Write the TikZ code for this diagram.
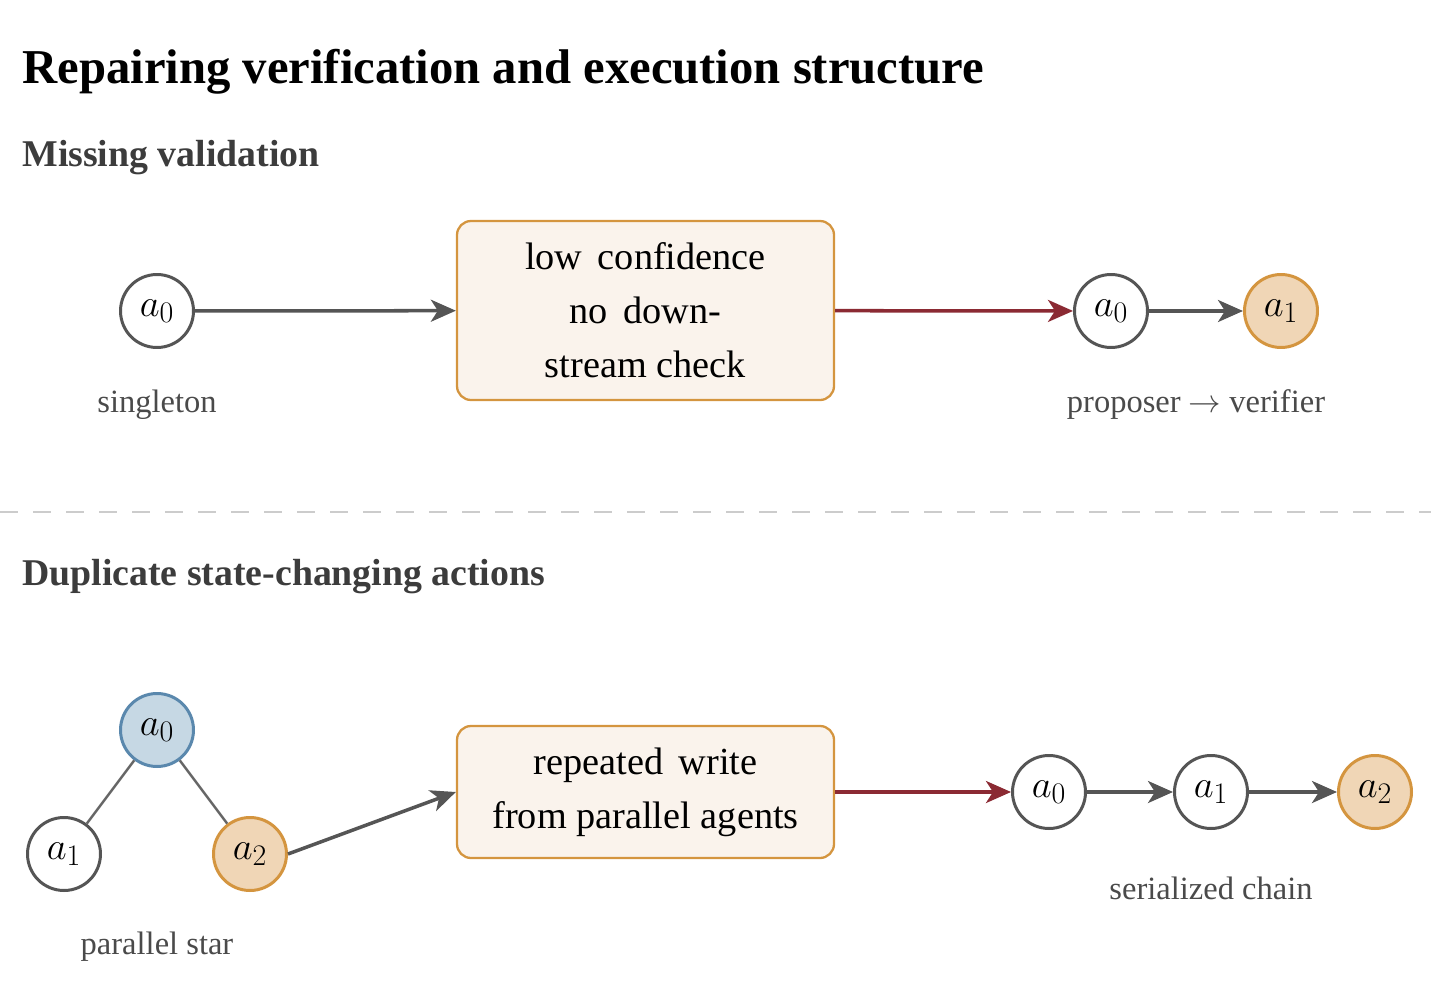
\RequirePackage{fix-cm}
\documentclass[tikz,border=0pt]{standalone}
\usepackage[no-math]{fontspec}
\setmainfont{Liberation Serif}
\usepackage{xcolor}
\usepackage{tikz}
\usetikzlibrary{arrows.meta}
\usepackage{amsmath}
\DeclareMathSizes{22}{22}{17}{12}

\definecolor{edgegray}{HTML}{555555}
\definecolor{labelgray}{HTML}{4A4A4A}
\definecolor{headgray}{HTML}{3C3C3C}
\definecolor{repairred}{HTML}{8B2A33}
\definecolor{warnline}{HTML}{D4953F}
\definecolor{warnfill}{HTML}{F0D6B6}
\definecolor{boxfill}{HTML}{FAF3EC}
\definecolor{rootline}{HTML}{5A88AD}
\definecolor{rootfill}{HTML}{C6D8E4}
\definecolor{rulegray}{HTML}{CCCCCC}

\begin{document}
\begin{tikzpicture}[
    agent/.style={circle,draw=edgegray,line width=1.7pt,fill=white,minimum size=1.46cm,inner sep=0pt,font=\fontsize{22}{26}\selectfont},
    touched/.style={agent,draw=warnline,fill=warnfill},
    root/.style={agent,draw=rootline,fill=rootfill},
    failbox/.style={draw=warnline,fill=boxfill,line width=1.3pt,rounded corners=0.28cm,minimum width=7.54cm,align=center,font=\fontsize{21.8}{30.7}\selectfont},
    caption/.style={text=labelgray,font=\fontsize{18.5}{22}\selectfont},
    heading/.style={anchor=base west,text=headgray,font=\fontsize{21.5}{25}\selectfont\bfseries,inner sep=0pt},
    flow/.style={-{Stealth[length=0.5cm,width=0.44cm,inset=0.14cm]},draw=edgegray,line width=2pt},
    fix/.style={flow,draw=repairred,fill=repairred},
  ]
    \useasboundingbox (0,0) rectangle (28.62,-19.8);
    \node[anchor=base west,inner sep=0pt,font=\fontsize{27.7}{32}\selectfont\bfseries] (title) at (0.44,-1.66) {Repairing verification and execution structure};

    % missing validation
    \node[heading] (head1) at (0.44,-3.32) {Missing validation};
    \node[agent] (single) at (3.14,-6.22) {$a_0$};
    \node[caption] (singlelbl) at (3.14,-8.1) {singleton};
    \node[failbox,minimum height=3.58cm] (check) at (12.91,-6.21) {low\hspace{0.4em}confidence\\no\hspace{0.4em}down-\\stream check};
    \node[agent] (prop) at (22.22,-6.22) {$a_0$};
    \node[touched] (verif) at (25.62,-6.22) {$a_1$};
    \node[caption] (pvlbl) at (23.92,-8.1) {proposer $\rightarrow$ verifier};
    \draw[flow] (single) -- (check);
    \draw[fix] (check) -- (prop);
    \draw[flow] (prop) -- (verif);

    \coordinate (ruleL) at (0,-10.24);
    \coordinate (ruleR) at (28.62,-10.24);
    \draw[rulegray,line width=1.7pt,dash pattern=on 0.36cm off 0.3cm] (ruleL) -- (ruleR);

    % duplicate actions
    \node[heading] (head2) at (0.44,-11.7) {Duplicate state-changing actions};
    \node[root] (s0) at (3.14,-14.6) {$a_0$};
    \node[agent] (s1) at (1.28,-17.08) {$a_1$};
    \node[touched] (s2) at (5.0,-17.08) {$a_2$};
    \draw[edgegray!90,line width=1.4pt] (s0) -- (s1);
    \draw[edgegray!90,line width=1.4pt] (s0) -- (s2);
    \node[caption] (starlbl) at (3.14,-18.94) {parallel star};
    \node[failbox,minimum height=2.64cm] (write) at (12.91,-15.84) {repeated\hspace{0.4em}write\\from parallel agents};
    \node[agent] (c0) at (20.98,-15.84) {$a_0$};
    \node[agent] (c1) at (24.22,-15.84) {$a_1$};
    \node[touched] (c2) at (27.5,-15.84) {$a_2$};
    \node[caption] (chainlbl) at (24.22,-17.76) {serialized chain};
    \draw[flow] (s2.east) -- (write.west);
    \draw[fix] (write) -- (c0);
    \draw[flow] (c0) -- (c1);
    \draw[flow] (c1) -- (c2);
\end{tikzpicture}
\end{document}
